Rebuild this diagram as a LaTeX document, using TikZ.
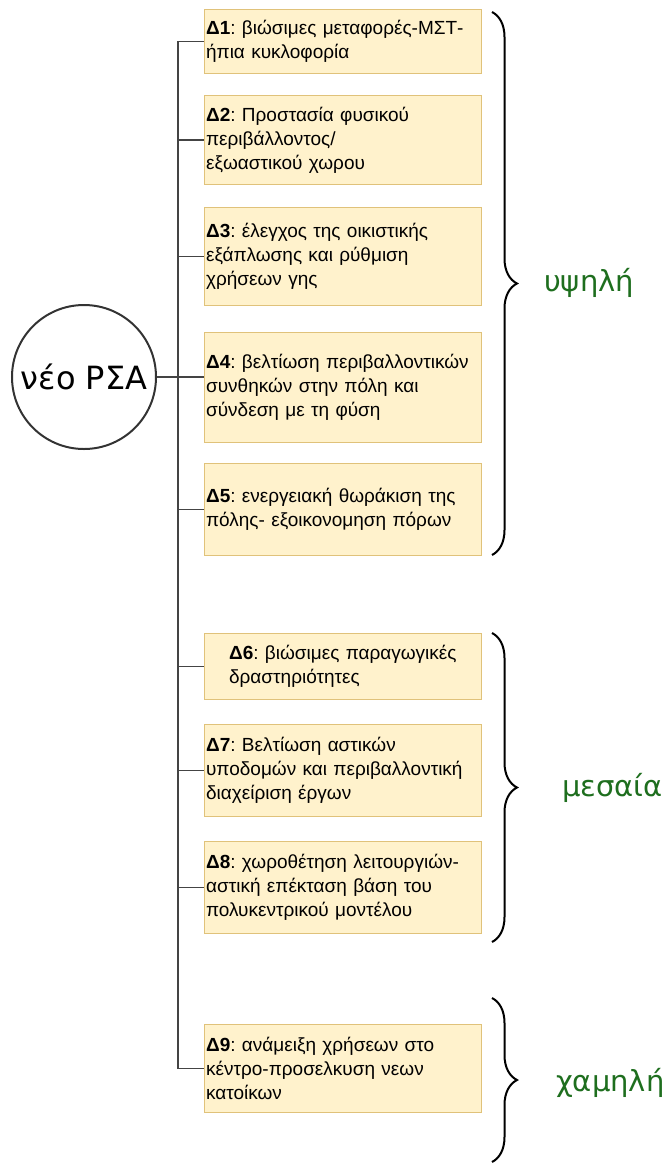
\documentclass[tikz,border=0pt]{standalone}
\usepackage{fontspec}
\setmainfont{Liberation Sans}
\newfontfamily\roundfont{DejaVu Sans}
\usetikzlibrary{decorations.pathreplacing}
\definecolor{boxfill}{HTML}{FFF2CC}
\definecolor{boxline}{HTML}{E0C27A}
\definecolor{linkgray}{HTML}{444444}
\definecolor{hubline}{HTML}{333333}
\definecolor{levelgreen}{RGB}{30,110,30}
\frenchspacing

\begin{document}
\begin{tikzpicture}[x=1pt,y=-1pt,
  goal/.style={draw=boxline, fill=boxfill, line width=1.2pt, rectangle,
    minimum width=277pt, text width=274pt, inner xsep=1.5pt, inner ysep=0pt,
    align=left, font=\fontsize{19}{24}\selectfont, anchor=north west},
  link/.style={draw=linkgray, line width=1.4pt},
  lvlbrace/.style={draw=black, line width=2pt, decorate,
    decoration={brace, amplitude=25pt}},
  level/.style={text=levelgreen, font=\roundfont\fontsize{29}{32}\selectfont,
    anchor=west, inner sep=0pt},
]
\useasboundingbox (0,0) rectangle (665,1165);

% central circle
\node[draw=hubline, circle, line width=2pt, minimum size=144pt, inner sep=0pt,
  font=\roundfont\fontsize{32}{36}\selectfont] (hub) at (84,377) {νέο ΡΣΑ};

% goal boxes
\node[goal, minimum height=64pt] (d1) at (204,9)
  {\textbf{Δ1}: βιώσιμες μεταφορές-ΜΣΤ-\\ήπια κυκλοφορία};
\node[goal, minimum height=89pt] (d2) at (204,95)
  {\textbf{Δ2}: Προστασία φυσικού\\περιβάλλοντος/\\εξωαστικού χωρου};
\node[goal, minimum height=98pt] (d3) at (204,207)
  {\textbf{Δ3}: έλεγχος της οικιστικής\\εξάπλωσης και ρύθμιση\\χρήσεων γης};
\node[goal, minimum height=110pt] (d4) at (204,332)
  {\textbf{Δ4}: βελτίωση περιβαλλοντικών\\συνθηκών στην πόλη και\\σύνδεση με τη φύση};
\node[goal, minimum height=92pt] (d5) at (204,463)
  {\textbf{Δ5}: ενεργειακή θωράκιση της\\πόλης- εξοικονομηση πόρων};
\node[goal, minimum height=66pt] (d6) at (204,633)
  {\hspace*{23pt}\textbf{Δ6}: βιώσιμες παραγωγικές\\\hspace*{23pt}δραστηριότητες};
\node[goal, minimum height=92pt] (d7) at (204,724)
  {\textbf{Δ7}: Βελτίωση αστικών\\υποδομών και περιβαλλοντική\\διαχείριση έργων};
\node[goal, minimum height=92pt] (d8) at (204,841)
  {\textbf{Δ8}: χωροθέτηση λειτουργιών-\\αστική επέκταση βάση του\\πολυκεντρικού μοντέλου};
\node[goal, minimum height=88pt] (d9) at (204,1024)
  {\textbf{Δ9}: ανάμειξη χρήσεων στο\\κέντρο-προσελκυση νεων\\κατοίκων};

% tree connectors
\coordinate (trunk) at (178,0);
\draw[link] (d1.west) -- (d1.west -| trunk) -- (d9.west -| trunk) -- (d9.west);
\foreach \g in {d2,d3,d5,d6,d7,d8}
  \draw[link] (\g.west -| trunk) -- (\g.west);
\draw[link] (hub.east) -- (hub.east -| d4.west);

% priority braces and labels
\draw[lvlbrace] (492,12) -- (492,555);
\draw[lvlbrace] (492,633) -- (492,942);
\draw[lvlbrace] (492,998) -- (492,1162);
\node[level] (high) at (544,283) {υψηλή};
\node[level] (mid) at (562,788) {μεσαία};
\node[level] (low) at (556,1083) {χαμηλή};
\end{tikzpicture}
\end{document}
